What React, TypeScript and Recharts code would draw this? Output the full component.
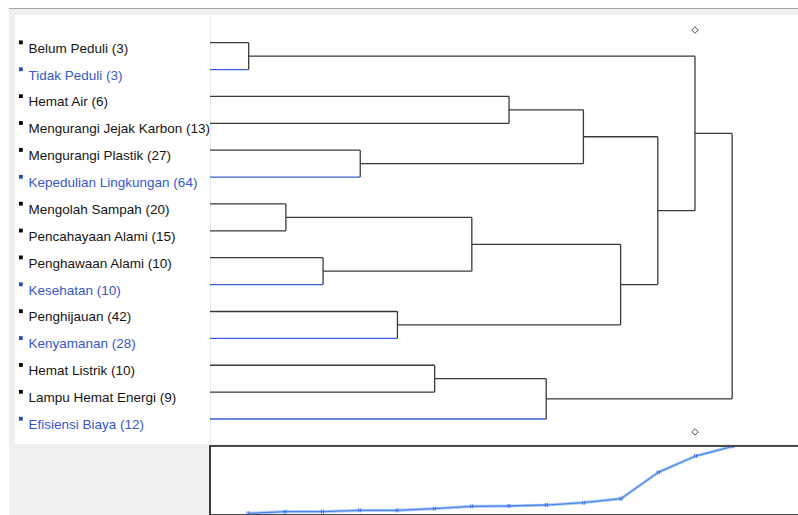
import { ComposedChart, LineChart, Line, Scatter, XAxis, YAxis, ReferenceLine } from 'recharts';

// leaves of the dendrogram, top to bottom
const leafLabels = [
  'Belum Peduli (3)',
  'Tidak Peduli (3)',
  'Hemat Air (6)',
  'Mengurangi Jejak Karbon (13)',
  'Mengurangi Plastik (27)',
  'Kepedulian Lingkungan (64)',
  'Mengolah Sampah (20)',
  'Pencahayaan Alami (15)',
  'Penghawaan Alami (10)',
  'Kesehatan (10)',
  'Penghijauan (42)',
  'Kenyamanan (28)',
  'Hemat Listrik (10)',
  'Lampu Hemat Energi (9)',
  'Efisiensi Biaya (12)',
];
const leafHighlighted = [false, true, false, false, false, true, false, false, false, true, false, true, false, false, true];

// merge steps 1..14 : L = leaf index, N = node made at that step
const mergeLeft = ['L0', 'L6', 'L8', 'L4', 'L10', 'L12', 'N2', 'L2', 'N6', 'N8', 'N7', 'N10', 'N1', 'N13'];
const mergeRight = ['L1', 'L7', 'L9', 'L5', 'L11', 'L13', 'N3', 'L3', 'L14', 'N4', 'N5', 'N11', 'N12', 'N9'];
// distance at each merge step (bottom strip)
const mergeDistance = [0.01, 0.034, 0.034, 0.054, 0.054, 0.078, 0.113, 0.118, 0.132, 0.166, 0.225, 0.613, 0.853, 0.996];

// the two small diamond handles
const handleSteps = [13, 13];
const handleRows = [-0.47, 14.48];

const FONT = '"Liberation Sans", Arial, sans-serif';
const DARK = '#3a3a3a';
const BLUE = '#3a5fcd';
const LEAF_X = -0.04;
const X_DOMAIN: [number, number] = [-0.04, 15.77];

type Seg = { x1: number; y1: number; x2: number; y2: number; blue: boolean };

const pos: Record<string, { x: number; y: number }> = {};
leafLabels.forEach((_, i) => {
  pos['L' + i] = { x: LEAF_X, y: i };
});
const segments: Seg[] = [];
mergeLeft.forEach((a, k) => {
  const b = mergeRight[k];
  const step = k + 1;
  const pa = pos[a];
  const pb = pos[b];
  const isBlue = (id: string) => id[0] === 'L' && leafHighlighted[Number(id.slice(1))];
  segments.push({ x1: pa.x, y1: pa.y, x2: step, y2: pa.y, blue: isBlue(a) });
  segments.push({ x1: pb.x, y1: pb.y, x2: step, y2: pb.y, blue: isBlue(b) });
  segments.push({ x1: step, y1: pa.y, x2: step, y2: pb.y, blue: false });
  pos['N' + step] = { x: step, y: (pa.y + pb.y) / 2 };
});

const handleData = handleSteps.map((s, i) => ({ x: s, y: handleRows[i] }));
const distanceData = mergeDistance.map((d, k) => ({ step: k + 1, dist: d }));

const LeafTick = (props: any) => {
  const { y, payload } = props;
  const i = payload.value as number;
  const blue = leafHighlighted[i];
  return (
    <g>
      <rect x={4} y={y - 2.2} width={3.8} height={3.8} fill={blue ? '#2447c4' : '#000'} />
      <text x={13.5} y={y + 10} fontSize={13.5} fontFamily={FONT} fill={blue ? '#3657cf' : '#151515'}>
        {leafLabels[i]}
      </text>
    </g>
  );
};

const Diamond = (props: any) => {
  const { cx, cy } = props;
  return (
    <polygon
      points={`${cx},${cy - 3.2} ${cx + 3.2},${cy} ${cx},${cy + 3.2} ${cx - 3.2},${cy}`}
      fill="#fff"
      stroke="#555"
      strokeWidth={1}
    />
  );
};

const TickDot = (props: any) => {
  const { cx, cy } = props;
  if (cx == null || cy == null) return null;
  return (
    <g stroke="#3b6fd6" strokeWidth={0.9}>
      <line x1={cx - 1} y1={cy - 2} x2={cx - 1} y2={cy + 2} />
      <line x1={cx + 1} y1={cy - 2} x2={cx + 1} y2={cy + 2} />
    </g>
  );
};

export default function App() {
  return (
    <div style={{ position: 'absolute', left: 0, top: 0, width: 798, height: 515, background: '#fff', overflow: 'hidden', fontFamily: FONT }}>
      {/* grey frame */}
      <div style={{ position: 'absolute', left: 9, top: 8, width: 800, height: 520, background: '#f0f0f0', borderTop: '1px solid #a8a8a8' }} />
      {/* label panel + plot area */}
      <div style={{ position: 'absolute', left: 15, top: 15, width: 783, height: 429, background: '#fff' }} />
      <div style={{ position: 'absolute', left: 210, top: 15, width: 1, height: 429, background: '#ececec' }} />
      <div style={{ position: 'absolute', left: 15, top: 15 }}>
        <ComposedChart width={783} height={429} data={handleData} margin={{ top: 0, right: 0, bottom: 0, left: 0 }}>
          <XAxis type="number" dataKey="x" domain={X_DOMAIN} hide />
          <YAxis
            type="number"
            dataKey="y"
            domain={[-1.03, 14.93]}
            reversed
            width={195}
            ticks={leafLabels.map((_, i) => i)}
            interval={0}
            axisLine={false}
            tickLine={false}
            tick={<LeafTick />}
          />
          {segments.map((s, i) => (
            <ReferenceLine
              key={i}
              segment={[{ x: s.x1, y: s.y1 }, { x: s.x2, y: s.y2 }]}
              stroke={s.blue ? BLUE : DARK}
              strokeWidth={1.3}
              ifOverflow="visible"
            />
          ))}
          <Scatter data={handleData} shape={<Diamond />} isAnimationActive={false} />
        </ComposedChart>
      </div>
      {/* distance strip */}
      <div style={{ position: 'absolute', left: 210, top: 445, width: 600, height: 70, background: '#fff' }} />
      <div style={{ position: 'absolute', left: 209, top: 445 }}>
        <LineChart width={590} height={70} data={distanceData} margin={{ top: 1, right: 0, bottom: 1, left: 0 }}>
          <XAxis type="number" dataKey="step" domain={X_DOMAIN} hide />
          <YAxis type="number" domain={[0, 1]} hide />
          <Line dataKey="dist" stroke="#b7d0f8" strokeWidth={3.2} dot={false} isAnimationActive={false} />
          <Line dataKey="dist" stroke="#4a86ea" strokeWidth={1.3} dot={<TickDot />} isAnimationActive={false} />
        </LineChart>
      </div>
      <div style={{ position: 'absolute', left: 209, top: 445, width: 600, height: 67, borderTop: '2px solid #4a4a4a', borderLeft: '2px solid #3a3a3a', borderBottom: '1.5px solid #4a4a4a' }} />
    </div>
  );
}
